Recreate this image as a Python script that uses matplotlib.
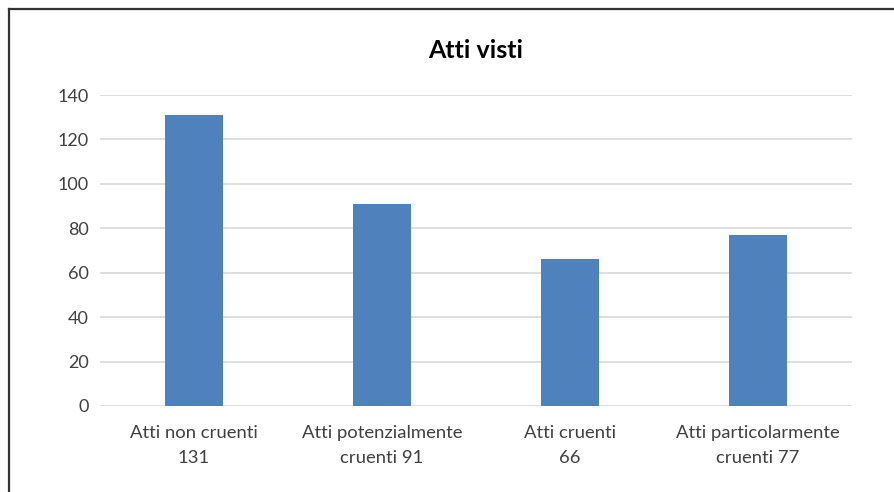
import matplotlib.pyplot as plt
from matplotlib.lines import Line2D
import numpy as np

# data
categories = ['Atti non cruenti\n131', 'Atti potenzialmente\ncruenti 91',
              'Atti cruenti\n66', 'Atti particolarmente\ncruenti 77']
values = [131, 91, 66, 77]
yticks = [0, 20, 40, 60, 80, 100, 120, 140]

plt.rcParams['font.family'] = ['Lato', 'DejaVu Sans']

fig = plt.figure(figsize=(8.95, 4.92), dpi=100)
ax = fig.add_axes([100 / 895, 1 - 406 / 492, 752 / 895, 311 / 492])

x = np.arange(len(categories))
ax.bar(x, values, width=0.31, color='#4f81bd', zorder=3)

ax.set_xlim(-0.5, len(categories) - 0.5)
ax.set_ylim(0, 140)
ax.set_yticks(yticks)
ax.set_yticklabels([str(v) for v in yticks], fontsize=13, color='#404040')
ax.set_xticks(x)
ax.set_xticklabels(categories, fontsize=13.3, color='#404040', linespacing=1.68)
ax.tick_params(axis='both', length=0)
ax.tick_params(axis='y', pad=8)
ax.tick_params(axis='x', pad=13.5)

ax.grid(axis='y', color='#d9d9d9', linewidth=1.2, zorder=0)
for s in ax.spines.values():
    s.set_visible(False)

fig.text(476 / 895, 1 - 50 / 492, 'Atti visti', ha='center', va='center',
         fontsize=18, fontweight='bold', color='black')

# frame lines on top and left
fig.add_artist(Line2D([8.5 / 895, 1], [1 - 8.5 / 492] * 2, color='#333333',
                      linewidth=1.6, transform=fig.transFigure))
fig.add_artist(Line2D([8.5 / 895] * 2, [0, 1 - 8.5 / 492], color='#333333',
                      linewidth=1.6, transform=fig.transFigure))

fig.savefig('out.png', dpi=100, facecolor='white')
